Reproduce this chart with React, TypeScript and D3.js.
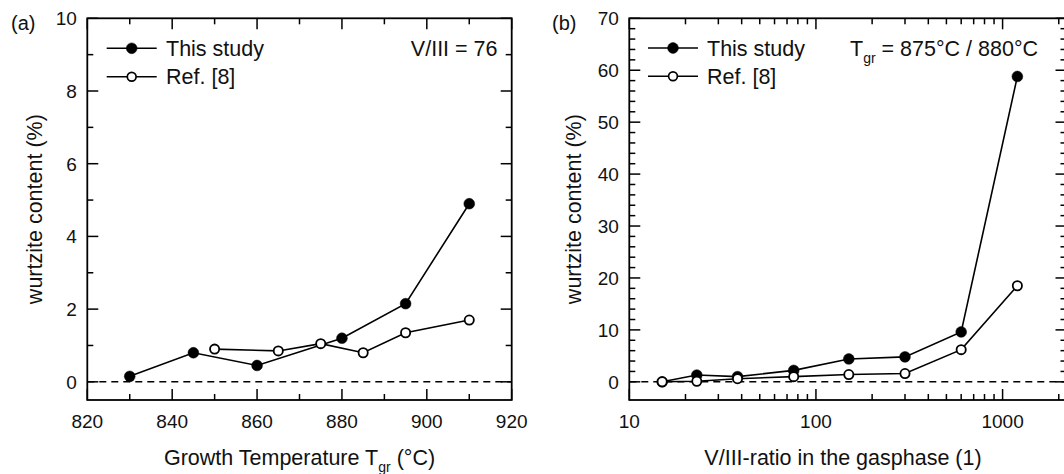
import React from "react";
import * as d3 from "d3";

// ---------- data ----------
const tempStudyX = [830, 845, 860, 880, 895, 910];
const tempStudyY = [0.15, 0.8, 0.45, 1.2, 2.15, 4.9];
const tempRefX = [850, 865, 875, 885, 895, 910];
const tempRefY = [0.9, 0.85, 1.05, 0.8, 1.35, 1.7];

const ratioX = [15, 23, 38, 76, 150, 300, 600, 1200];
const ratioStudyY = [0, 1.3, 1.0, 2.2, 4.4, 4.8, 9.6, 58.8];
const ratioRefY = [0, 0.1, 0.6, 1.0, 1.4, 1.6, 6.2, 18.5];

const aXTicks = [820, 840, 860, 880, 900, 920];
const aXMinor = [830, 850, 870, 890, 910];
const aYTicks = [0, 2, 4, 6, 8, 10];
const aYMinor = [1, 3, 5, 7, 9];

const bXTicks = [10, 100, 1000];
const bXMinor = [20, 30, 40, 50, 60, 70, 80, 90, 200, 300, 400, 500, 600, 700, 800, 900, 2000];
const bYTicks = [0, 10, 20, 30, 40, 50, 60, 70];
const bYMinor = [2, 4, 6, 8, 12, 14, 16, 18, 22, 24, 26, 28, 32, 34, 36, 38, 42, 44, 46, 48, 52, 54, 56, 58, 62, 64, 66, 68];

const legendLabels = ["This study", "Ref. [8]"];

// ---------- style ----------
const FONT = "'Liberation Sans', Arial, Helvetica, sans-serif";
const TXT = "#111";
const TICK_FS = 19;
const TITLE_FS = 21.5;
const MAJ = 11;
const MIN = 6;
const R = 5.4;

type Scale = (v: number) => number;

function Axes({ x, y, xr, yr, xMaj, xMin, yMaj, yMin, xFmt }: {
  x: Scale; y: Scale; xr: [number, number]; yr: [number, number];
  xMaj: number[]; xMin: number[]; yMaj: number[]; yMin: number[]; xFmt: (v: number) => string;
}) {
  const [x0, x1] = xr;
  const [y1, y0] = yr; // y1 = bottom, y0 = top
  const tk: React.ReactNode[] = [];
  xMaj.forEach((v, i) => {
    const px = x(v);
    tk.push(<line key={"xM" + i} x1={px} x2={px} y1={y1} y2={y1 - MAJ} />);
    tk.push(<line key={"xMt" + i} x1={px} x2={px} y1={y0} y2={y0 + MAJ} />);
  });
  xMin.forEach((v, i) => {
    const px = x(v);
    tk.push(<line key={"xm" + i} x1={px} x2={px} y1={y1} y2={y1 - MIN} />);
    tk.push(<line key={"xmt" + i} x1={px} x2={px} y1={y0} y2={y0 + MIN} />);
  });
  yMaj.forEach((v, i) => {
    const py = y(v);
    tk.push(<line key={"yM" + i} x1={x0} x2={x0 + MAJ} y1={py} y2={py} />);
    tk.push(<line key={"yMr" + i} x1={x1} x2={x1 - MAJ} y1={py} y2={py} />);
  });
  yMin.forEach((v, i) => {
    const py = y(v);
    tk.push(<line key={"ym" + i} x1={x0} x2={x0 + MIN} y1={py} y2={py} />);
    tk.push(<line key={"ymr" + i} x1={x1} x2={x1 - MIN} y1={py} y2={py} />);
  });
  return (
    <g>
      <g stroke="#000" strokeWidth={1.5}>{tk}</g>
      <rect x={x0} y={y0} width={x1 - x0} height={y1 - y0} fill="none" stroke="#000" strokeWidth={1.8} />
      <g fontFamily={FONT} fontSize={TICK_FS} fill={TXT}>
        {xMaj.map((v, i) => (
          <text key={"xl" + i} x={x(v)} y={428} textAnchor="middle">{xFmt(v)}</text>
        ))}
        {yMaj.map((v, i) => (
          <text key={"yl" + i} x={x0 - 10.5} y={y(v)} dy="0.36em" textAnchor="end">{v}</text>
        ))}
      </g>
      <line x1={x0} x2={x1} y1={y(0)} y2={y(0)} stroke="#000" strokeWidth={1.4} strokeDasharray="7,5" />
    </g>
  );
}

function Series({ xs, ys, x, y, filled }: { xs: number[]; ys: number[]; x: Scale; y: Scale; filled: boolean }) {
  const pts: [number, number][] = xs.map((v, i) => [x(v), y(ys[i])]);
  const path = d3.line()(pts) || "";
  return (
    <g>
      <path d={path} fill="none" stroke="#000" strokeWidth={1.6} />
      {pts.map((p, i) => (
        <circle key={i} cx={p[0]} cy={p[1]} r={filled ? R : R - 0.8}
          fill={filled ? "#000" : "#fff"} stroke="#000" strokeWidth={filled ? 0.5 : 1.8} />
      ))}
    </g>
  );
}

function Legend({ lx0, lx1, tx, ys }: { lx0: number; lx1: number; tx: number; ys: number[] }) {
  const mx = (lx0 + lx1) / 2;
  return (
    <g>
      {legendLabels.map((lab, i) => (
        <g key={i}>
          <line x1={lx0} x2={lx1} y1={ys[i]} y2={ys[i]} stroke="#000" strokeWidth={1.6} />
          <circle cx={mx} cy={ys[i]} r={i === 0 ? R : R - 1} fill={i === 0 ? "#000" : "#fff"}
            stroke="#000" strokeWidth={i === 0 ? 0.5 : 1.7} />
          <text x={tx} y={ys[i]} dy="0.36em" fontFamily={FONT} fontSize={TITLE_FS} fill={TXT}>{lab}</text>
        </g>
      ))}
    </g>
  );
}

export default function App() {
  // panel a
  const aL = 87.3, aR = 511.7, top = 18.3, bot = 400;
  const xa = d3.scaleLinear().domain([820, 920]).range([aL, aR]);
  const ya = d3.scaleLinear().domain([-0.5, 10]).range([bot, top]);

  // panel b
  const bL = 629.3, bR = 1066.5;
  const xb = d3.scaleLog().domain([10, 2200]).range([bL, bR]);
  const yb = d3.scaleLinear().domain([-3.5, 70]).range([bot, top]);

  return (
    <svg width={1064} height={474} style={{ position: "absolute", left: 0, top: 0, background: "#fff" }}>
      <rect x={0} y={0} width={1064} height={474} fill="#fff" />
      {/* Panel a */}
      <Axes x={xa} y={ya} xr={[aL, aR]} yr={[bot, top]} xMaj={aXTicks} xMin={aXMinor}
        yMaj={aYTicks} yMin={aYMinor} xFmt={(v) => String(v)} />
      <Series xs={tempStudyX} ys={tempStudyY} x={xa} y={ya} filled={true} />
      <Series xs={tempRefX} ys={tempRefY} x={xa} y={ya} filled={false} />
      <Legend lx0={106.7} lx1={156.7} tx={166} ys={[48.3, 76.7]} />
      <text x={497.5} y={48.3} dy="0.36em" textAnchor="end" fontFamily={FONT} fontSize={TITLE_FS} fill={TXT}>V/III = 76</text>
      <text x={11} y={30} fontFamily={FONT} fontSize={20} fill={TXT}>(a)</text>
      <text x={(aL + aR) / 2} y={465} textAnchor="middle" fontFamily={FONT} fontSize={TITLE_FS} fill={TXT}>
        Growth Temperature T<tspan fontSize={14} dy={7}>gr</tspan><tspan dy={-7}> (°C)</tspan>
      </text>
      <text transform={`translate(34,${(top + bot) / 2}) rotate(-90)`} dy="0.36em" textAnchor="middle"
        fontFamily={FONT} fontSize={TITLE_FS} fill={TXT}>wurtzite content (%)</text>

      {/* Panel b */}
      <Axes x={xb} y={yb} xr={[bL, bR]} yr={[bot, top]} xMaj={bXTicks} xMin={bXMinor}
        yMaj={bYTicks} yMin={bYMinor} xFmt={(v) => String(v)} />
      <Series xs={ratioX} ys={ratioStudyY} x={xb} y={yb} filled={true} />
      <Series xs={ratioX} ys={ratioRefY} x={xb} y={yb} filled={false} />
      <Legend lx0={648} lx1={698} tx={707} ys={[48, 76.3]} />
      <text x={850} y={48} dy="0.36em" fontFamily={FONT} fontSize={TITLE_FS} fill={TXT}>
        T<tspan fontSize={14} dy={7}>gr</tspan><tspan dy={-7}> = 875°C / 880°C</tspan>
      </text>
      <text x={552} y={30} fontFamily={FONT} fontSize={20} fill={TXT}>(b)</text>
      <text x={843} y={465} textAnchor="middle" fontFamily={FONT} fontSize={TITLE_FS} fill={TXT}>
        V/III-ratio in the gasphase (1)
      </text>
      <text transform={`translate(573.5,${(top + bot) / 2}) rotate(-90)`} dy="0.36em" textAnchor="middle"
        fontFamily={FONT} fontSize={TITLE_FS} fill={TXT}>wurtzite content (%)</text>
    </svg>
  );
}
